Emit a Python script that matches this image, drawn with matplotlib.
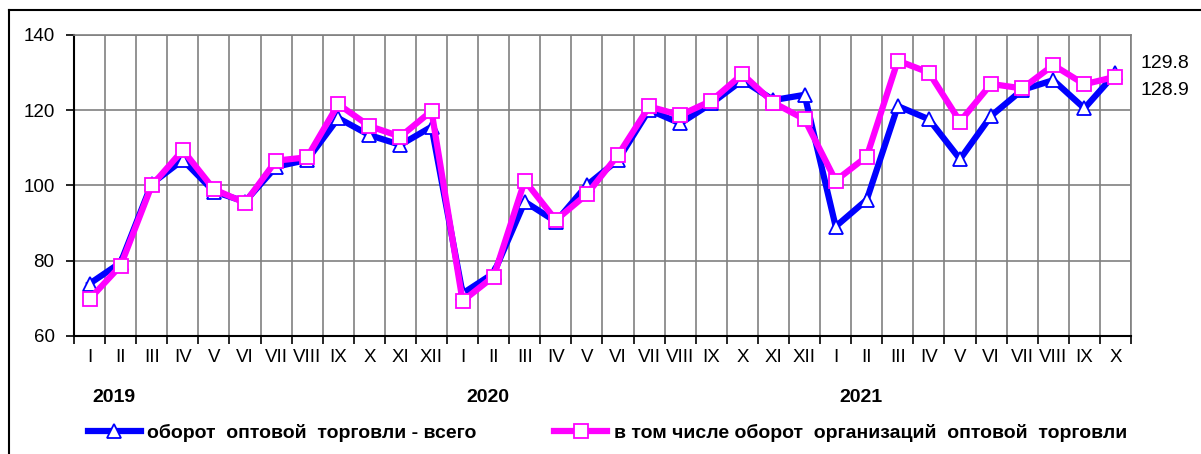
import matplotlib.pyplot as plt
from matplotlib.lines import Line2D
import matplotlib.transforms as mtransforms

plt.rcParams['font.family'] = ['Liberation Sans', 'DejaVu Sans']

months = ['I', 'II', 'III', 'IV', 'V', 'VI', 'VII', 'VIII', 'IX', 'X', 'XI', 'XII',
          'I', 'II', 'III', 'IV', 'V', 'VI', 'VII', 'VIII', 'IX', 'X', 'XI', 'XII',
          'I', 'II', 'III', 'IV', 'V', 'VI', 'VII', 'VIII', 'IX', 'X']
years = ['2019', '2020', '2021']

total = [73.9, 79.5, 100.5, 106.8, 98.4, 95.7, 105.0, 106.8, 117.9, 113.4, 110.8, 115.6,
         71.3, 76.7, 95.7, 90.4, 100.1, 106.8, 120.1, 116.5, 121.8, 128.0, 122.7, 124.1,
         89.1, 96.2, 121.1, 117.6, 107.0, 118.5, 125.4, 128.0, 120.5, 129.8]
organizations = [69.8, 78.7, 100.0, 109.4, 99.0, 95.4, 106.6, 107.5, 121.6, 115.8, 113.0, 119.8,
                 69.3, 75.8, 101.3, 90.8, 97.7, 108.1, 121.0, 118.7, 122.5, 129.6, 122.0, 117.6,
                 101.3, 107.7, 133.2, 130.0, 117.0, 127.0, 125.8, 132.0, 126.9, 128.9]

label_total = 'оборот  оптовой  торговли - всего'
label_org = 'в том числе оборот  организаций  оптовой  торговли'

fig = plt.figure(figsize=(12.01, 4.54), dpi=100)
ax = fig.add_axes([74 / 1201, 118 / 454, 1057 / 1201, 301 / 454])

x = list(range(len(months)))
l1, = ax.plot(x, total, color='#0000FF', lw=4.5, marker='^', ms=9.5,
              mfc='white', mec='#0000FF', mew=1.3, zorder=3)
l2, = ax.plot(x, organizations, color='#FF00FF', lw=4.5, marker='s', ms=9.5,
              mfc='white', mec='#FF00FF', mew=1.3, zorder=4)

ax.set_xlim(-0.5, len(months) - 0.5)
ax.set_ylim(60, 140)
ax.set_yticks([60, 80, 100, 120, 140])

ax.set_xticks([i - 0.5 for i in range(len(months) + 1)])
ax.set_xticklabels([])
ax.set_xticks(x, minor=True)
ax.set_xticklabels(months, minor=True)
ax.tick_params(axis='x', which='major', direction='out', length=6, width=1.2, color='black')
ax.tick_params(axis='x', which='minor', length=0, pad=9, labelsize=13.5)
ax.tick_params(axis='y', direction='out', length=6, width=1.2, pad=8, labelsize=13.5)

ax.grid(True, which='major', color='#808080', lw=1.2)
ax.set_axisbelow(True)
for s in ['top', 'right']:
    ax.spines[s].set_color('#808080')
    ax.spines[s].set_linewidth(1.2)
for s in ['left', 'bottom']:
    ax.spines[s].set_color('black')
    ax.spines[s].set_linewidth(1.5)

# year labels under the month labels
trans = mtransforms.blended_transform_factory(ax.transData, fig.transFigure)
for k, yr in enumerate(years):
    ax.text(12 * k + 0.8, 1 - 397 / 454, yr, transform=trans, ha='center', va='center',
            fontsize=14, fontweight='bold')

# end values
ax.annotate(f'{total[-1]:.1f}', xy=(x[-1], total[-1]), xytext=(18, 7),
            textcoords='offset points', ha='left', va='center', fontsize=14,
            annotation_clip=False)
ax.annotate(f'{organizations[-1]:.1f}', xy=(x[-1], organizations[-1]), xytext=(18, -10),
            textcoords='offset points', ha='left', va='center', fontsize=14,
            annotation_clip=False)

fig.legend([l1, l2], [label_total, label_org], loc='center left',
           bbox_to_anchor=(88 / 1201, 1 - 433 / 454), ncol=2, frameon=False,
           numpoints=1, handlelength=2.7, handletextpad=0.35, columnspacing=4.0,
           borderpad=0, borderaxespad=0,
           prop={'size': 14, 'weight': 'bold'})

# outer frame (only left and top edges are visible)
fig.add_artist(Line2D([9 / 1201, 9 / 1201], [0, 1 - 10 / 454], transform=fig.transFigure,
                      color='black', lw=1.5))
fig.add_artist(Line2D([9 / 1201, 1], [1 - 10 / 454, 1 - 10 / 454], transform=fig.transFigure,
                      color='black', lw=1.5))

fig.savefig('out.png', dpi=100)
